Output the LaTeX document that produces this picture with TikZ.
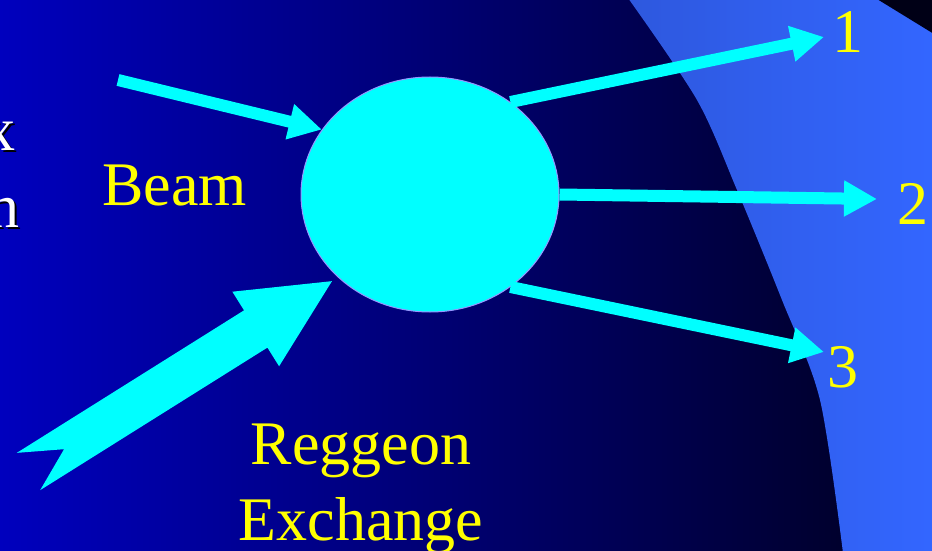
\documentclass[tikz,border=0pt]{standalone}
\usepackage{fontspec}
\setmainfont{Liberation Serif}
\usetikzlibrary{arrows.meta,calc,shapes.geometric}
\definecolor{slideleft}{RGB}{0,0,190}
\definecolor{slideright}{RGB}{0,0,30}
\definecolor{panelblue}{RGB}{51,102,255}
\definecolor{paneldim}{RGB}{46,88,222}
\definecolor{cornerdark}{RGB}{0,0,22}
\definecolor{orbrim}{RGB}{150,150,255}
\definecolor{orbcyan}{RGB}{0,255,255}
\definecolor{labelyellow}{RGB}{255,255,0}

\begin{document}
\begin{tikzpicture}[x=1pt,y=-1pt,>={Triangle[length=33pt,width=34pt]},
  bigtext/.style={font=\fontsize{62}{76}\selectfont,inner sep=0pt},
  lbl/.style={bigtext,text=labelyellow},
  flow/.style={->,draw=orbcyan,line width=12pt}]
\useasboundingbox (0,0) rectangle (932,551);
\clip (0,0) rectangle (932,551);
\shade[left color=slideleft,right color=slideright] (0,0) rectangle (932,551);
\shade[left color=paneldim,right color=panelblue]
  plot[smooth] coordinates {(628,-2) (697,100) (737,190) (782,300) (820,400) (843,553)}
  -- (934,553) -- (934,-2) -- cycle;
\fill[cornerdark] (877,-1) -- (934,-1) -- (934,34) -- cycle;

\node[bigtext,text=black,anchor=base east] (xshadow) at (18,152) {x};
\node[bigtext,text=white,anchor=base east] (xghost) at (16,150) {x};
\node[bigtext,text=black,anchor=base east] (nshadow) at (22,229) {n};
\node[bigtext,text=white,anchor=base east] (nghost) at (20,227) {n};

\node[ellipse,fill=orbcyan,draw=orbrim,line width=1pt,inner sep=0pt,
  minimum width=258pt,minimum height=235pt] (orb) at (430,194.5) {};

\node[lbl,anchor=base] (beam) at (174.5,205) {Beam};
\node[lbl,anchor=base,align=center] (reggeon) at (361,540) {Reggeon\\Exchange};
\node[lbl,anchor=base west] (one) at (832,53) {1};
\node[lbl,anchor=base west] (two) at (897,224) {2};
\node[lbl,anchor=base west] (three) at (827,387) {3};

\coordinate (beamtail) at (118,80);
\coordinate (tip1) at (824,37);
\coordinate (tip2) at (877,199);
\coordinate (tip3) at (824,352);
\draw[flow] (beamtail) -- (orb.149);
\draw[flow] (orb.49) -- (tip1);
\draw[flow] (orb.0) -- (tip2);
\draw[flow] (orb.-49) -- (tip3);

\coordinate (rtail) at (28.5,471.5);
\coordinate (rtip) at ($(orb.222)!7pt!(rtail)$);
\coordinate (rbase) at ($(rtip)!90pt!(rtail)$);
\fill[orbcyan] ($(rtail)!22pt!90:(rtip)$) -- ($(rbase)!22pt!90:(rtip)$)
  -- ($(rbase)!44pt!90:(rtip)$) -- (rtip) -- ($(rbase)!44pt!-90:(rtip)$)
  -- ($(rbase)!22pt!-90:(rtip)$) -- ($(rtail)!22pt!-90:(rtip)$)
  -- ($(rtail)!42pt!(rtip)$) -- cycle;
\end{tikzpicture}
\end{document}
